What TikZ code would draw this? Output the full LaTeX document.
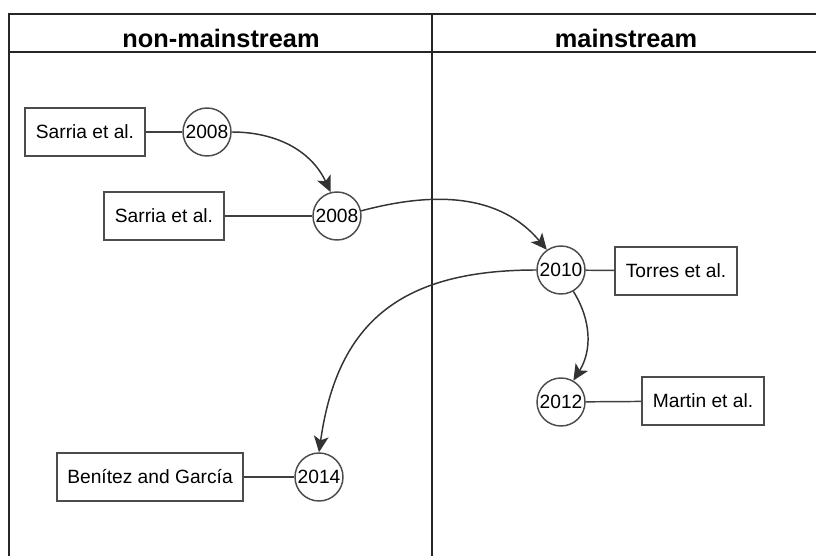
\documentclass[tikz,border=0pt]{standalone}
\usepackage{fontspec}
\setmainfont{Liberation Sans}
\usetikzlibrary{arrows.meta}

\begin{document}
\begin{tikzpicture}[x=0.75pt, y=-0.75pt,
  every node/.style={font=\fontsize{14.4}{17}\selectfont},
  ref/.style={draw=black!70, line width=1.4pt, minimum height=36.5pt, inner xsep=8pt},
  year/.style={draw=black!70, circle, line width=1.1pt, minimum size=36pt, inner sep=0pt, fill=white},
  lane/.style={font=\bfseries\fontsize{19}{23}\selectfont},
  link/.style={draw=black!75, line width=1.1pt},
  flow/.style={draw=black!80, line width=1.1pt, -{Stealth[length=12pt, width=11pt, inset=3pt]}}]
\useasboundingbox (0,0) rectangle (816,556);
% swimlanes
\draw[line width=1.8pt, black!85] (9,556) -- (9,14) -- (816,14);
\draw[line width=1.8pt, black!85] (9,52) -- (816,52);
\draw[line width=1.8pt, black!85] (432,14) -- (432,556);
\node[lane] (nonmain) at (221,38) {non-mainstream};
\node[lane] (main) at (626,38) {mainstream};
% publications
\node[ref] (sarriaA) at (85,132) {Sarria et al.};
\node[year] (y08a) at (207,132) {2008};
\node[ref] (sarriaB) at (164,216) {Sarria et al.};
\node[year] (y08b) at (337,216) {2008};
\node[year] (y10) at (561,270) {2010};
\node[ref] (torres) at (676,271) {Torres et al.};
\node[year] (y12) at (561,402) {2012};
\node[ref] (martin) at (703,401) {Martin et al.};
\node[year] (y14) at (319,477) {2014};
\node[ref] (benitez) at (150,477) {Benítez and García};
\draw[link] (sarriaA) -- (y08a);
\draw[link] (sarriaB) -- (y08b);
\draw[link] (y10) -- (torres);
\draw[link] (y12) -- (martin);
\draw[link] (benitez) -- (y14);
% citations
\draw[flow] (y08a.east) to[out=0, in=115] (y08b.105);
\draw[flow] (y08b.12) to[out=15, in=130] (y10.125);
\draw[flow] (y10.west) to[out=180, in=82, looseness=1.2] (y14.north);
\draw[flow] (y10.-60) to[out=-58, in=58] (y12.60);
\end{tikzpicture}
\end{document}
